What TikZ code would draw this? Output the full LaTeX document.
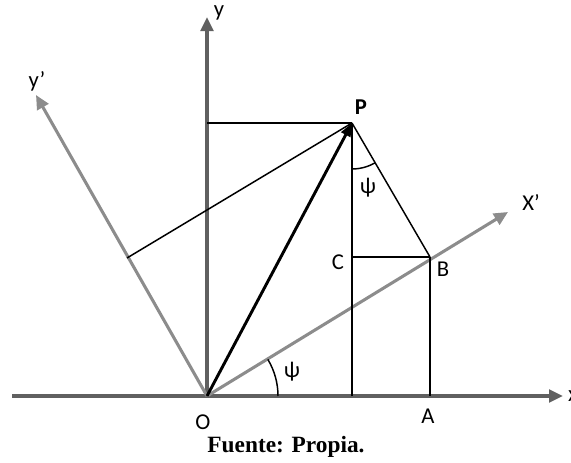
\documentclass[tikz,border=0pt]{standalone}
\usepackage{fontspec}
\setmainfont{Carlito}
\newfontfamily\capfont{Liberation Serif}
\usepackage{xcolor}
\usepackage{tikz}
\usetikzlibrary{arrows.meta,calc}
\definecolor{axisgray}{RGB}{96,96,96}
\definecolor{rotgray}{RGB}{140,140,140}

\begin{document}
\begin{tikzpicture}[x=0.75pt, y=0.75pt,
  every node/.style={font=\fontsize{17}{20}\selectfont, inner sep=0pt},
  axis/.style={axisgray, line width=2.3pt, -{Triangle[length=10.5pt, width=9.5pt]}},
  rotaxis/.style={rotgray, line width=2.3pt, -{Triangle[length=10.5pt, width=9.5pt]}},
  guide/.style={black, line width=1.1pt},
  vec/.style={black, line width=2.2pt, -{Triangle[length=10pt, width=7.5pt]}}]
\useasboundingbox (0,0) rectangle (571,462);
% ---- points
\coordinate (O) at (207,66);
\coordinate (P) at (352,339);
\coordinate (B) at (430,205);
\coordinate (C) at (352,205);
\coordinate (A) at (430,66);
\coordinate (Pfoot) at (352,66);
\coordinate (Ptop) at (207,339);
\coordinate (Q) at (127,204);
\coordinate (xstart) at (12,66);
\coordinate (xend) at (563,66);
\coordinate (yend) at (207,445);
\coordinate (xpend) at (508,250);
\coordinate (ypend) at (36,367);
% ---- axes
\draw[axis] (xstart) -- (xend);
\draw[axis] (O) -- (yend);
\draw[rotaxis] (O) -- (xpend);
\draw[rotaxis] (O) -- (ypend);
% ---- construction lines
\draw[guide] (Ptop) -- (P);
\draw[guide] (P) -- (Pfoot);
\draw[guide] (P) -- (B);
\draw[guide] (C) -- (B);
\draw[guide] (B) -- (A);
\draw[guide] (Q) -- (P);
\draw[vec] (O) -- (P);
% ---- angles
\draw[guide] ($(O)+(71,0)$) arc (0:31:71);
\draw[guide] ($(P)+(0,-46)$) arc (270:300:46);
% ---- labels
\node (lx) at (573,66) {x};
\node (ly) at (219,449) {y};
\node (lyp) at (37,381) {y’};
\node (lxp) at (531,259) {X’};
\node[font=\fontsize{17}{20}\selectfont\bfseries] (lP) at (361,355) {P};
\node (lC) at (338,200) {C};
\node (lB) at (443,193) {B};
\node (lA) at (428,46) {A};
\node (lO) at (203,40) {O};
\node (lpsiO) at (292,90) {ψ};
\node (lpsiP) at (368,274) {ψ};
\node[font=\fontsize{17.5}{20}\selectfont\capfont\bfseries] (cap) at (286,15) {Fuente: Propia.};
\end{tikzpicture}
\end{document}
